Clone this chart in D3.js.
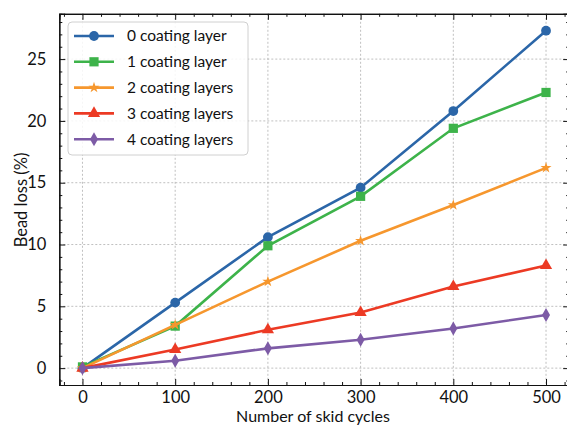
<!DOCTYPE html>
<html>
<head>
<meta charset="utf-8">
<script src="https://cdn.jsdelivr.net/npm/d3@7"></script>
<style>
  body { margin: 0; background: #fff; }
  svg text { font-family: Lato, "Open Sans", sans-serif; fill: #111; }
</style>
</head>
<body>
<script>
// chart data
var cycles = [0, 100, 200, 300, 400, 500];
var seriesNames = ["0 coating layer", "1 coating layer", "2 coating layers", "3 coating layers", "4 coating layers"];
var layer0 = [0, 5.3, 10.6, 14.6, 20.8, 27.3];
var layer1 = [0.1, 3.4, 9.9, 13.9, 19.4, 22.3];
var layer2 = [0, 3.5, 7.0, 10.3, 13.2, 16.2];
var layer3 = [0, 1.5, 3.1, 4.5, 6.6, 8.3];
var layer4 = [0, 0.6, 1.6, 2.3, 3.2, 4.3];
var xTicks = [0, 100, 200, 300, 400, 500];
var yTicks = [0, 5, 10, 15, 20, 25];

var colors = ["#2b66a8", "#3db34a", "#f6972e", "#ec3a24", "#7d5ba6"];
var symbols = [d3.symbolCircle, d3.symbolSquare, d3.symbolStar, d3.symbolTriangle, "diamond"];
var allSeries = [layer0, layer1, layer2, layer3, layer4];

var width = 567, height = 426;
var plotLeft = 59.3, plotRight = 569.2, plotTop = 13.8, plotBottom = 385;

var svg = d3.select("body").append("svg")
  .attr("width", width)
  .attr("height", height);

var x = d3.scaleLinear().domain([-25, 525]).range([plotLeft, plotRight]);
var y = d3.scaleLinear().domain([-1.365, 28.665]).range([plotBottom, plotTop]);

// grid
var grid = svg.append("g");
xTicks.forEach(function(t) {
  grid.append("line")
    .attr("x1", x(t)).attr("x2", x(t))
    .attr("y1", plotTop).attr("y2", plotBottom)
    .attr("stroke", "#b0b0b0").attr("stroke-width", 0.8)
    .attr("stroke-dasharray", "2,2");
});
yTicks.forEach(function(t) {
  grid.append("line")
    .attr("x1", plotLeft).attr("x2", plotRight)
    .attr("y1", y(t)).attr("y2", y(t))
    .attr("stroke", "#b0b0b0").attr("stroke-width", 0.8)
    .attr("stroke-dasharray", "2,2");
});

// axes with inward ticks
var xMinor = d3.range(-20, 525, 20).filter(function(v) { return v % 100 !== 0; });
var yMinor = d3.range(-1, 29, 1).filter(function(v) { return v % 5 !== 0; });

svg.append("g").attr("transform", "translate(0," + plotBottom + ")")
  .call(d3.axisBottom(x).tickValues(xMinor).tickSize(-3).tickFormat(""));
svg.append("g").attr("transform", "translate(0," + plotBottom + ")")
  .call(d3.axisBottom(x).tickValues(xTicks).tickSize(-6).tickPadding(6).tickFormat(d3.format("d")));
svg.append("g").attr("transform", "translate(0," + plotTop + ")")
  .call(d3.axisTop(x).tickValues(xMinor).tickSize(-3).tickFormat(""));
svg.append("g").attr("transform", "translate(0," + plotTop + ")")
  .call(d3.axisTop(x).tickValues(xTicks).tickSize(-6).tickFormat(""));

svg.append("g").attr("transform", "translate(" + plotLeft + ",0)")
  .call(d3.axisLeft(y).tickValues(yMinor).tickSize(-3).tickFormat(""));
svg.append("g").attr("transform", "translate(" + plotLeft + ",0)")
  .call(d3.axisLeft(y).tickValues(yTicks).tickSize(-6).tickPadding(13).tickFormat(d3.format("d")));
svg.append("g").attr("transform", "translate(" + plotRight + ",0)")
  .call(d3.axisRight(y).tickValues(yMinor).tickSize(-3).tickFormat(""));
svg.append("g").attr("transform", "translate(" + plotRight + ",0)")
  .call(d3.axisRight(y).tickValues(yTicks).tickSize(-6).tickFormat(""));

svg.selectAll(".domain").attr("stroke", "#111").attr("stroke-width", 1.2);
svg.selectAll(".tick line").attr("stroke", "#111").attr("stroke-width", 1);
svg.selectAll(".tick text").attr("font-size", 16.5).attr("font-family", "Lato, 'Open Sans', sans-serif").attr("fill", "#111");

function markerPath(sym, size) {
  if (sym === "diamond") {
    var w = 4, h = 7;
    return "M0," + (-h) + "L" + w + ",0L0," + h + "L" + (-w) + ",0Z";
  }
  return d3.symbol().type(sym).size(size)();
}
var markerSizes = [75, 85, 38, 65, 0];

var line = d3.line()
  .x(function(d, i) { return x(cycles[i]); })
  .y(function(d) { return y(d); });

allSeries.forEach(function(vals, k) {
  var g = svg.append("g");
  g.append("path")
    .attr("d", line(vals))
    .attr("fill", "none")
    .attr("stroke", colors[k])
    .attr("stroke-width", 2.6);
  g.selectAll("path.m")
    .data(vals)
    .enter()
    .append("path")
    .attr("class", "m")
    .attr("d", markerPath(symbols[k], markerSizes[k]))
    .attr("transform", function(d, i) { return "translate(" + x(cycles[i]) + "," + y(d) + ")"; })
    .attr("fill", colors[k]);
});

// legend
var lg = svg.append("g").attr("transform", "translate(68,22)");
lg.append("rect")
  .attr("width", 180).attr("height", 133)
  .attr("rx", 4)
  .attr("fill", "#fff").attr("fill-opacity", 0.85)
  .attr("stroke", "#d0d0d0").attr("stroke-width", 1);
seriesNames.forEach(function(name, k) {
  var yy = 14 + k * 25.8;
  lg.append("line")
    .attr("x1", 6).attr("x2", 46)
    .attr("y1", yy).attr("y2", yy)
    .attr("stroke", colors[k]).attr("stroke-width", 2.6);
  lg.append("path")
    .attr("d", markerPath(symbols[k], markerSizes[k]))
    .attr("transform", "translate(26," + yy + ")")
    .attr("fill", colors[k]);
  lg.append("text")
    .attr("x", 59).attr("y", yy)
    .attr("dy", "0.35em")
    .attr("font-size", 15.5)
    .text(name);
});

// axis titles
svg.append("text")
  .attr("x", 313).attr("y", 422)
  .attr("text-anchor", "middle")
  .attr("font-size", 16)
  .text("Number of skid cycles");
svg.append("text")
  .attr("transform", "translate(27,200) rotate(-90)")
  .attr("text-anchor", "middle")
  .attr("font-size", 16.5)
  .text("Bead loss (%)");
</script>
</body>
</html>
